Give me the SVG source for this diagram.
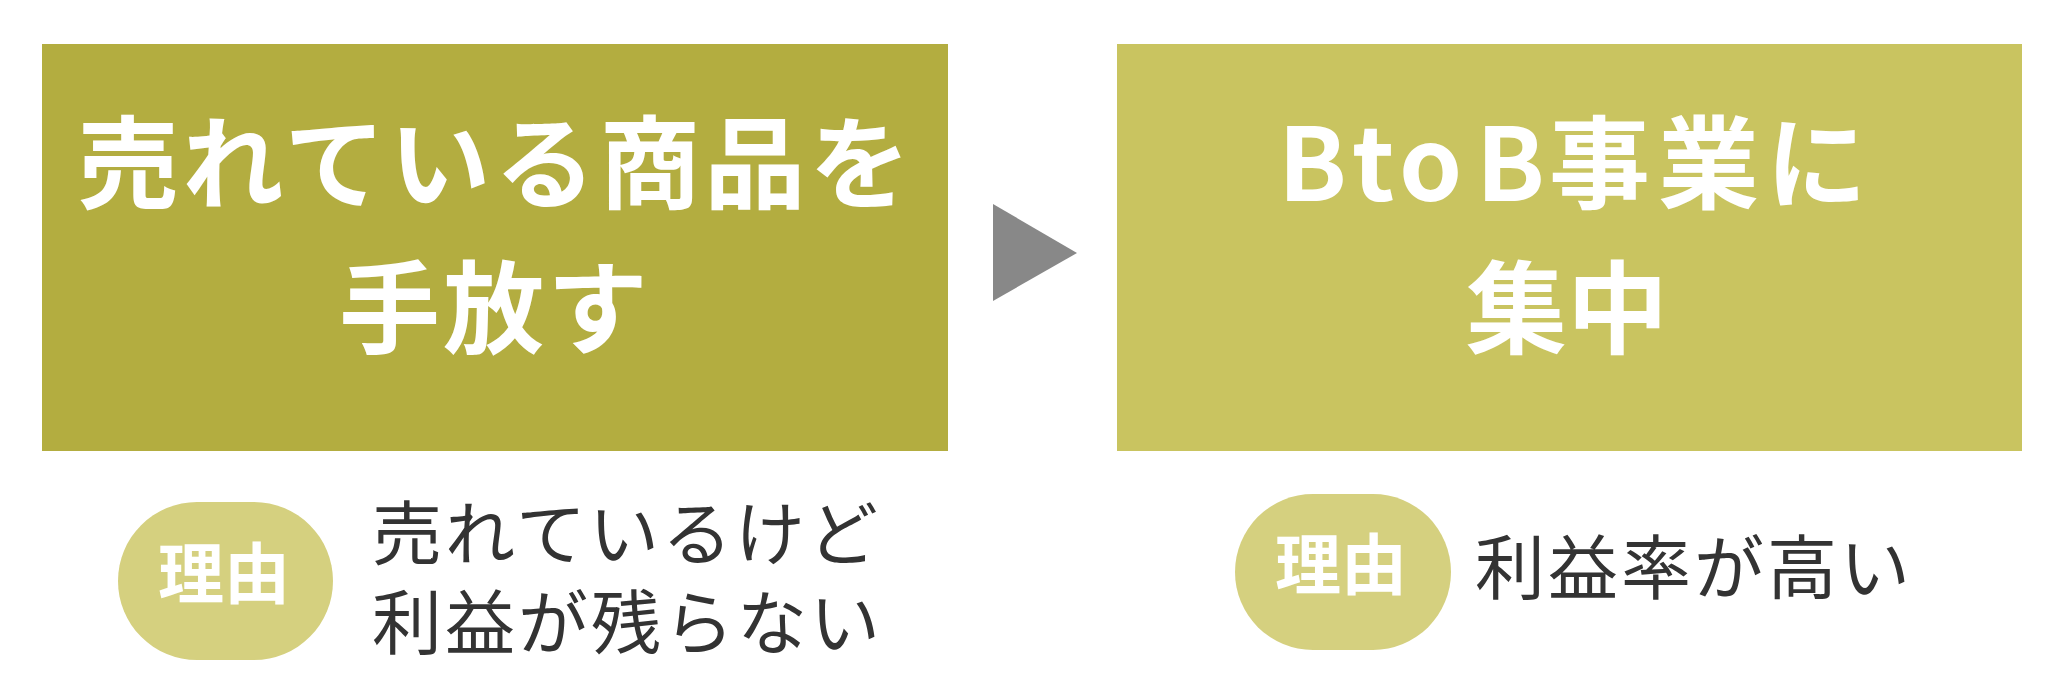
<svg xmlns="http://www.w3.org/2000/svg" width="2070" height="700" viewBox="0 0 2070 700">
<style>
.title{font-family:"Noto Sans CJK JP","Noto Sans",sans-serif;font-weight:700;font-size:101px;fill:#ffffff}
.tag{font-family:"Noto Sans CJK JP","Noto Sans",sans-serif;font-weight:700;font-size:66px;fill:#ffffff}
.reason{font-family:"Noto Sans CJK JP","Noto Sans",sans-serif;font-weight:400;font-size:70px;fill:#333333;letter-spacing:3px}
.pill{fill:#d5d07f}
</style>
<rect width="2070" height="700" fill="#ffffff"/>
<g id="node-left">
<rect x="42" y="44" width="906" height="407" fill="#b3ad40"/>
<text class="title" x="496" y="201" text-anchor="middle" letter-spacing="4">売れている商品を</text>
<text class="title" x="495" y="346" text-anchor="middle" letter-spacing="3">手放す</text>
</g>
<g id="connectors">
<polygon points="993,204 1077,253 993,301" fill="#888888"/>
</g>
<g id="node-right">
<rect x="1117" y="44" width="905" height="407" fill="#c9c460"/>
<text class="title" x="1278 1352 1399 1476 1549 1658 1766" y="201">BtoB事業に</text>
<text class="title" x="1567" y="346" text-anchor="middle">集中</text>
</g>
<g id="reason-left">
<rect class="pill" x="118" y="502" width="215" height="158" rx="79" ry="79"/>
<text class="tag" x="224" y="598" text-anchor="middle">理由</text>
<text class="reason" x="372" y="560">売れているけど<tspan x="372" y="649">利益が残らない</tspan></text>
</g>
<g id="reason-right">
<rect class="pill" x="1235" y="494" width="216" height="156" rx="78" ry="78"/>
<text class="tag" x="1341" y="589" text-anchor="middle">理由</text>
<text class="reason" x="1475" y="594" letter-spacing="1">利益率が高い</text>
</g>
</svg>
